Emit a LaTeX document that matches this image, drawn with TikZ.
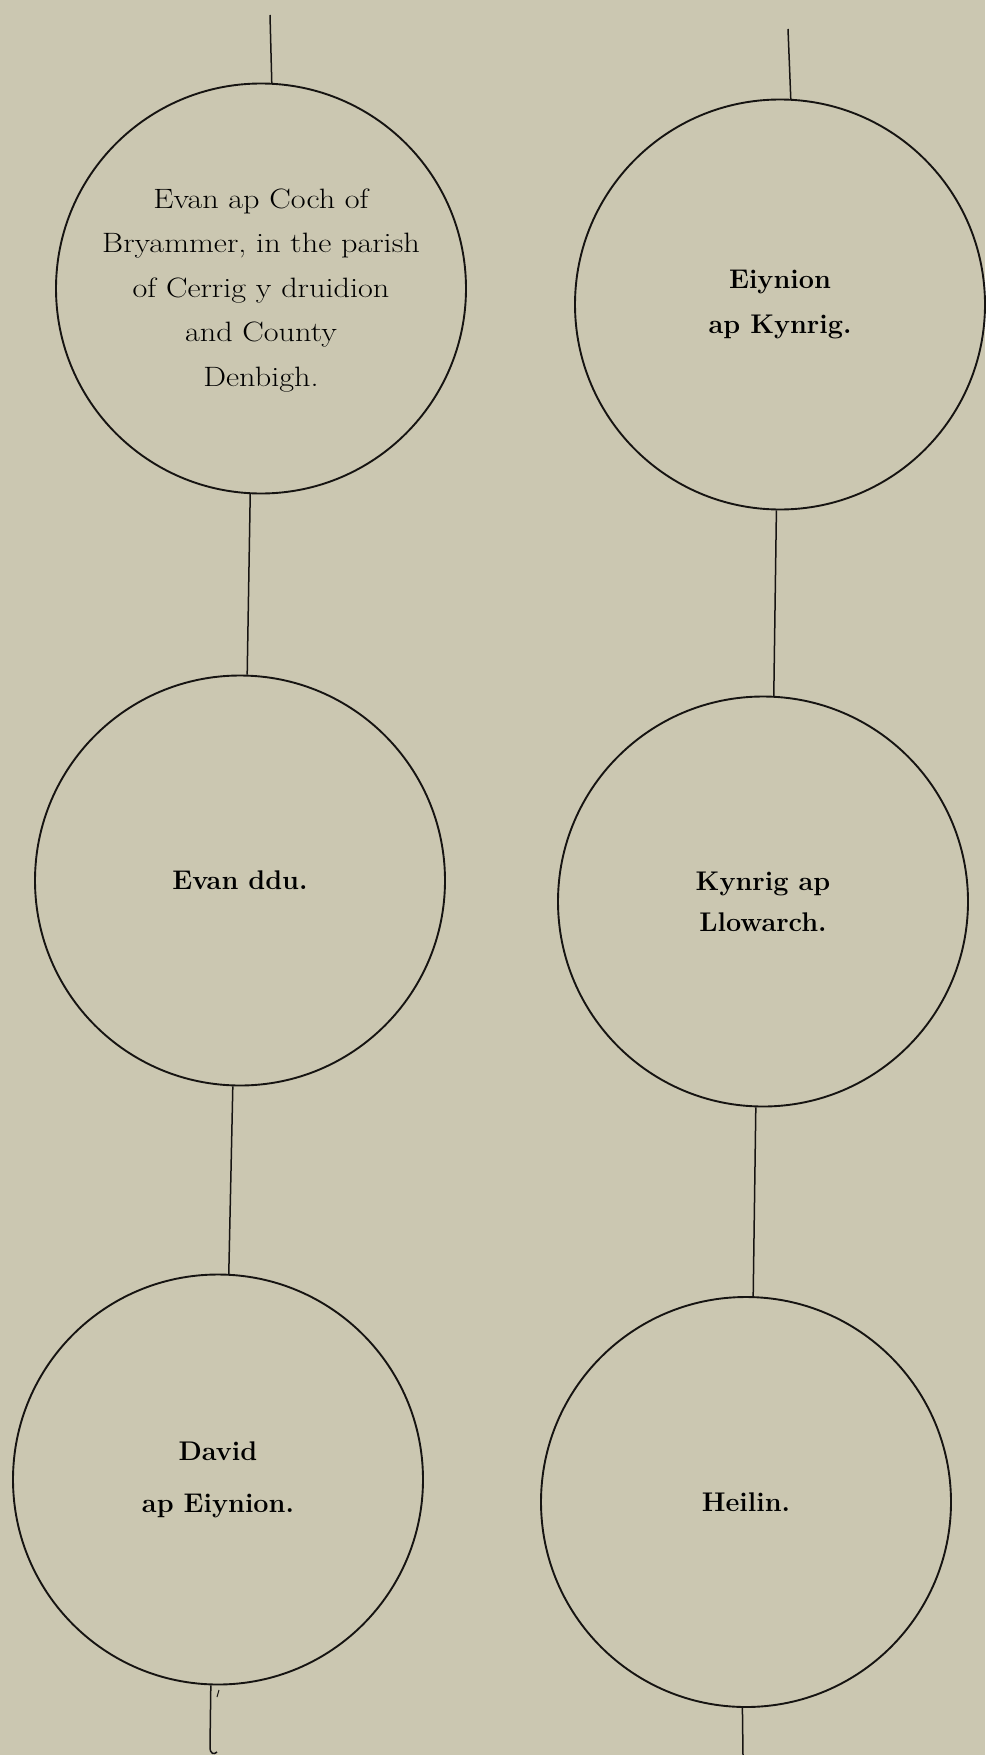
\documentclass[tikz,border=0pt]{standalone}
\definecolor{paper}{RGB}{203,199,177}
\definecolor{ink}{RGB}{22,20,18}
\begin{document}
\begin{tikzpicture}[x=1pt,y=-1pt,
  person/.style={circle,draw=ink,line width=1.9pt,minimum size=410pt,inner sep=0pt,align=center,text=black},
  plain/.style={font=\fontsize{28}{44.5}\selectfont},
  heavy/.style={font=\fontsize{27}{#1}\selectfont\bfseries},
  link/.style={draw=ink,line width=1.5pt}]
\fill[paper] (0,0) rectangle (985,1755);
\useasboundingbox (0,0) rectangle (985,1755);

% left column
\node[person,plain] (L1) at (261,288.5) {\scalebox{1.15}[1]{\begin{tabular}{@{}c@{}}Evan ap Coch of\\Bryammer, in the parish\\of Cerrig y druidion\\and County\\Denbigh.\end{tabular}}};
\node[person,heavy=44] (L2) at (240,880.5) {Evan ddu.};
\node[person,heavy=52] (L3) at (218,1479.5) {David\\ap Eiynion.};

% right column
\node[person,heavy=45] (R1) at (780,304.5) {Eiynion\\ap Kynrig.};
\node[person,heavy=41] (R2) at (763,901.5) {Kynrig ap\\Llowarch.};
\node[person,heavy=44] (R3) at (746,1502) {Heilin.};

\coordinate (topL) at (270,15);
\coordinate (topR) at (788,29);
\coordinate (botL) at (210,1747);
\coordinate (hookL) at (217,1752);
\coordinate (botR) at (743,1755);

\draw[link] (topL) -- (L1.87.5);
\draw[link] (L1.267.6) -- (L2.88.3);
\draw[link] (L2.268.3) -- (L3.87.5);
\draw[link] (L3.268.3) -- (botL) .. controls (210,1754) and (214,1755) .. (hookL);
\draw[draw=ink,line width=1pt] (219,1690) -- (217,1697);

\draw[link] (topR) -- (R1.87.8);
\draw[link] (R1.269.2) -- (R2.87.8);
\draw[link] (R2.268.6) -- (R3.88.2);
\draw[link] (R3.269.2) -- (botR);
\end{tikzpicture}
\end{document}
